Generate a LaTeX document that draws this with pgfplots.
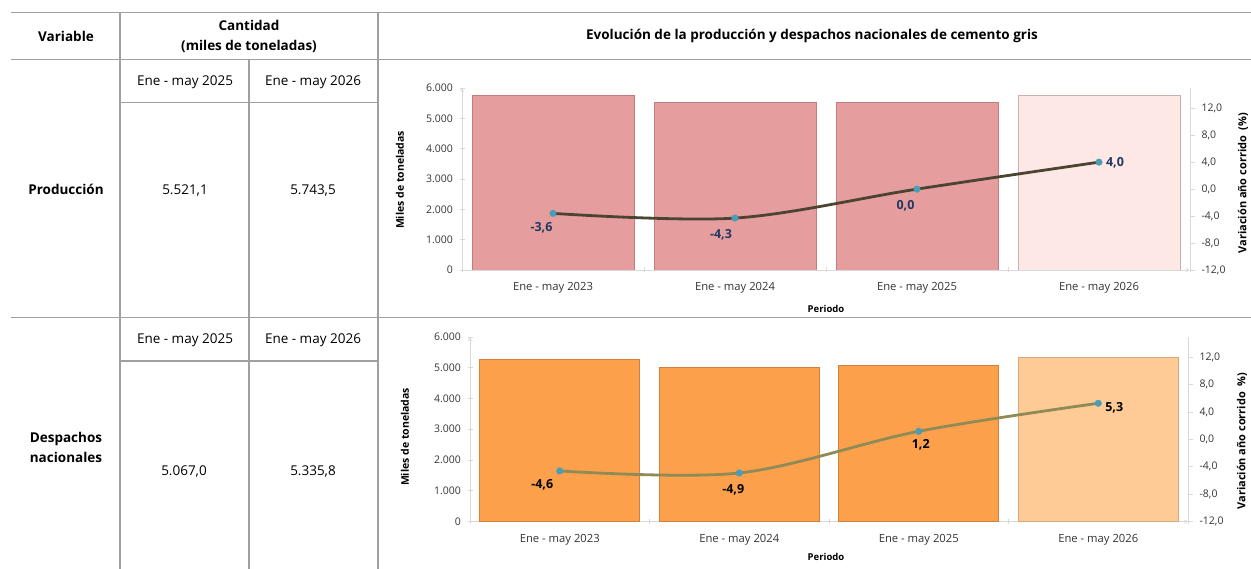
\documentclass[border=0pt]{standalone}
\usepackage{pgfplots}
\pgfplotsset{compat=1.18}
\usepackage{pgfplotstable}
\usepackage{fontspec}
\setmainfont{Open Sans}
\definecolor{axgray}{HTML}{D9D9D9}
\definecolor{tline}{HTML}{A0A0A0}
\definecolor{cA}{HTML}{E59E9D}
\definecolor{cAl}{HTML}{FDE8E6}
\definecolor{cAe}{HTML}{BF7E7D}
\definecolor{cAle}{HTML}{C9B0AE}
\definecolor{cAline}{HTML}{4A4430}
\definecolor{markc}{HTML}{4A9DB8}
\definecolor{navy}{HTML}{203864}
\definecolor{cB}{HTML}{FCA04C}
\definecolor{cBl}{HTML}{FECB96}
\definecolor{cBe}{HTML}{D0823C}
\definecolor{cBle}{HTML}{D6A87C}
\definecolor{cBline}{HTML}{8F8B56}

\newcommand\fs{\fontsize{13.5}{20}\selectfont}

\pgfplotstableread{
x y
0 5769
1 5521
2 5521.1
}\prodA
\pgfplotstableread{
x y
3 5743.5
}\prodB
\pgfplotstableread{
x y lab dx dy
0 -3.6 -3,6 -11.5 -14
1 -4.3 -4,3 -14 -17
2 0.0 0,0 -11.5 -17
3 4.0 4,0 16 -1
}\prodV
\pgfplotstableread{
x y
0 5265
1 5007
2 5067.0
}\despA
\pgfplotstableread{
x y
3 5335.8
}\despB
\pgfplotstableread{
x y lab dx dy
0 -4.6 -4,6 -17.5 -13.5
1 -4.9 -4,9 -6 -16.5
2 1.2 1,2 2 -13
3 5.3 5,3 16 -4
}\despV

\pgfplotsset{
 chartbase/.style={scale only axis, anchor=south west, xmin=-0.5, xmax=3.5,
   /pgf/number format/assume math mode=true,
   tick align=outside, major tick length=5pt, minor tick length=5pt,
   tick style={draw=axgray, line width=0.8pt},
   axis line style={draw=axgray, line width=0.8pt, -}},
 barax/.style={chartbase, ymin=0, ymax=6000,
   axis lines=left,
   ytick={0,1000,...,6000}, scaled y ticks=false,
   y tick label style={/pgf/number format/fixed, /pgf/number format/precision=0, /pgf/number format/1000 sep={.},
     font=\fontsize{10.5}{12}\selectfont, text=black!80, xshift=-3pt},
   xtick={-0.5,0.5,1.5,2.5,3.5}, xticklabels={,,,,},
   extra x ticks={0,1,2,3},
   extra x tick labels={Ene - may 2023,Ene - may 2024,Ene - may 2025,Ene - may 2026},
   extra x tick style={major tick length=0pt},
   x tick label style={font=\fontsize{11.25}{13}\selectfont, text=black!80, yshift=-9pt}},
 varax/.style={chartbase, ymin=-12, ymax=15,
   axis x line=none, axis y line*=right, xtick=\empty,
   ytick={-12,-8,...,12},
   y tick label style={/pgf/number format/fixed, /pgf/number format/fixed zerofill, /pgf/number format/precision=1, /pgf/number format/use comma, /pgf/number format/1000 sep={},
     font=\fontsize{10.5}{12}\selectfont, text=black!80, xshift=3pt}},
 lab/.style={nodes near coords, point meta=explicit symbolic,
   visualization depends on={\thisrow{dx}\as\dx},
   visualization depends on={\thisrow{dy}\as\dy},
   nodes near coords style={anchor=center, xshift=\dx, yshift=\dy,
     font=\bfseries\fontsize{12.5}{14}\selectfont, text=#1}},
}

\begin{document}
\begin{tikzpicture}
\useasboundingbox (0pt,0pt) rectangle (1251pt,-569pt);
% table lines
\begin{scope}[draw=tline, line width=1.3pt]
\draw (11pt,-12.5pt) -- (1251pt,-12.5pt);
\draw (11pt,-59.5pt) -- (1251pt,-59.5pt);
\draw (120pt,-102.5pt) -- (378pt,-102.5pt);
\draw (11pt,-317.5pt) -- (1251pt,-317.5pt);
\draw (120pt,-361pt) -- (378pt,-361pt);
\draw (120pt,-12.5pt) -- (120pt,-569pt);
\draw (249pt,-59.5pt) -- (249pt,-569pt);
\draw (378pt,-12.5pt) -- (378pt,-569pt);
\end{scope}
% table text
\node[font=\bfseries\fs] at (66pt,-36pt) {Variable};
\node[font=\bfseries\fs, align=center] at (249pt,-36pt) {Cantidad\\(miles de toneladas)};
\node[font=\bfseries\fs] at (812pt,-36pt) {Evolución de la producción y despachos nacionales de cemento gris};
\node[font=\fs] at (185pt,-82pt) {Ene - may 2025};
\node[font=\fs] at (313pt,-82pt) {Ene - may 2026};
\node[font=\bfseries\fs] at (66pt,-189pt) {Producción};
\node[font=\fs] at (185pt,-190pt) {5.521,1};
\node[font=\fs] at (313pt,-190pt) {5.743,5};
\node[font=\fs] at (185pt,-340pt) {Ene - may 2025};
\node[font=\fs] at (313pt,-340pt) {Ene - may 2026};
\node[font=\bfseries\fs, align=center] at (66pt,-447pt) {Despachos\\nacionales};
\node[font=\fs] at (184pt,-471pt) {5.067,0};
\node[font=\fs] at (313pt,-471pt) {5.335,8};

% ---------- Chart 1 ----------
\begin{axis}[barax, at={(462pt,-270pt)}, width=728pt, height=182pt]
\addplot[ybar, bar shift=0pt, bar width=0.89, fill=cA, draw=cAe, line width=0.8pt] table[x=x,y=y]{\prodA};
\addplot[ybar, bar shift=0pt, bar width=0.89, fill=cAl, draw=cAle, line width=0.8pt] table[x=x,y=y]{\prodB};
\end{axis}
\begin{axis}[varax, at={(462pt,-270pt)}, width=728pt, height=182pt]
\addplot[smooth, tension=0.55, line width=2.8pt, color=cAline] table[x=x,y=y]{\prodV};
\addplot[only marks, mark=*, mark size=3.3pt, mark options={fill=markc, draw=markc}, lab=navy] table[x=x,y=y,meta=lab]{\prodV};
\end{axis}
\node[font=\bfseries\fontsize{10.5}{12}\selectfont, rotate=90] at (400pt,-180pt) {Miles de toneladas};
\node[font=\bfseries\fontsize{11}{12}\selectfont, rotate=90] at (1243pt,-183pt) {Variación año corrido\ \ (\%)};
\node[font=\bfseries\fontsize{9.5}{11}\selectfont] at (826pt,-309pt) {Periodo};

% ---------- Chart 2 ----------
\begin{axis}[barax, at={(470pt,-521.5pt)}, width=718pt, height=184.5pt]
\addplot[ybar, bar shift=0pt, bar width=0.89, fill=cB, draw=cBe, line width=0.8pt] table[x=x,y=y]{\despA};
\addplot[ybar, bar shift=0pt, bar width=0.89, fill=cBl, draw=cBle, line width=0.8pt] table[x=x,y=y]{\despB};
\end{axis}
\begin{axis}[varax, at={(470pt,-521.5pt)}, width=718pt, height=184.5pt]
\addplot[smooth, tension=0.55, line width=2.8pt, color=cBline] table[x=x,y=y]{\despV};
\addplot[only marks, mark=*, mark size=3.3pt, mark options={fill=markc, draw=markc}, lab=black] table[x=x,y=y,meta=lab]{\despV};
\end{axis}
\node[font=\bfseries\fontsize{10.5}{12}\selectfont, rotate=90] at (405pt,-437pt) {Miles de toneladas};
\node[font=\bfseries\fontsize{11}{12}\selectfont, rotate=90] at (1242pt,-441pt) {Variación año corrido\ \ \%)};
\node[font=\bfseries\fontsize{9.5}{11}\selectfont] at (826pt,-557pt) {Periodo};
\end{tikzpicture}
\end{document}
